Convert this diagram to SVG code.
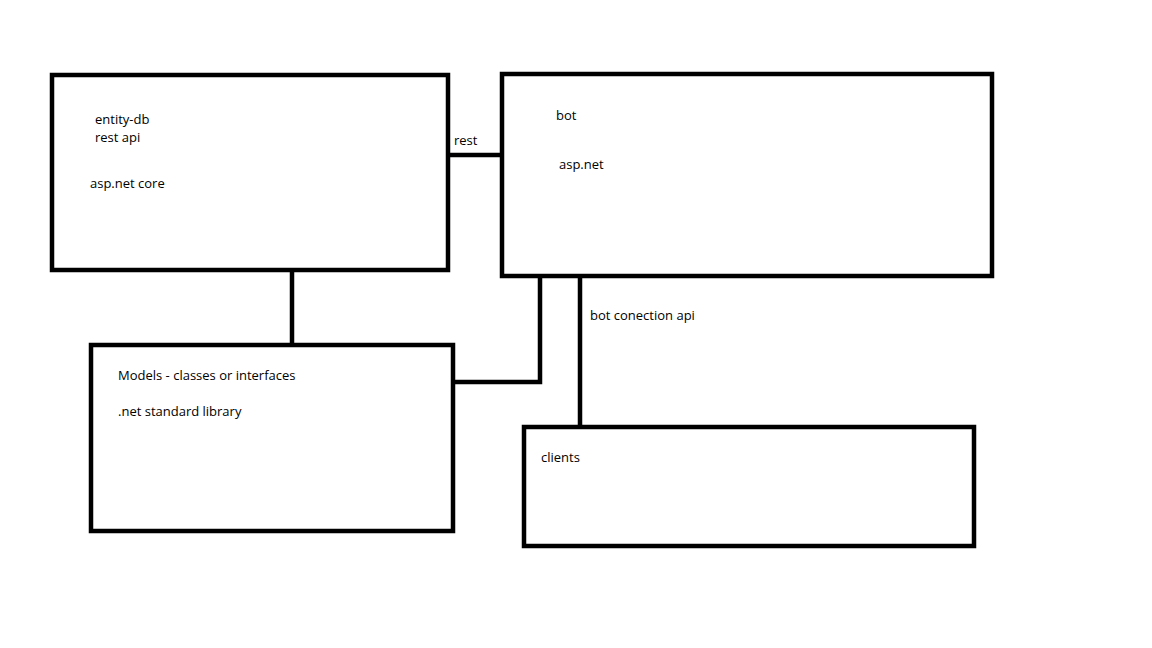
<svg xmlns="http://www.w3.org/2000/svg" width="1152" height="648" viewBox="0 0 1152 648">
<style>
.box{fill:#fff;stroke:#000;stroke-width:4.5}
.ln{fill:none;stroke:#000;stroke-width:4.5}
text{font-family:"Open Sans","Noto Sans",sans-serif;font-size:13px;fill:#000}
</style>
<rect width="1152" height="648" fill="#fff"/>
<g id="connectors">
<line class="ln" x1="445" y1="155" x2="502" y2="155"/>
<line class="ln" x1="292" y1="270" x2="292" y2="345"/>
<polyline class="ln" points="540,276 540,382 453,382"/>
<line class="ln" x1="580" y1="276" x2="580" y2="427"/>
<text x="454" y="145">rest</text>
<text x="590" y="320">bot conection api</text>
</g>
<g id="entity-db">
<rect class="box" x="52" y="75" width="396" height="195"/>
<text x="95" y="124">entity-db</text>
<text x="95" y="142">rest api</text>
<text x="90" y="188">asp.net core</text>
</g>
<g id="bot">
<rect class="box" x="502" y="74" width="490" height="202"/>
<text x="556" y="120">bot</text>
<text x="559" y="169">asp.net</text>
</g>
<g id="models">
<rect class="box" x="91" y="345" width="362" height="186"/>
<text x="118" y="380">Models - classes or interfaces</text>
<text x="118" y="416">.net standard library</text>
</g>
<g id="clients">
<rect class="box" x="524" y="427" width="450" height="119"/>
<text x="541" y="462">clients</text>
</g>
</svg>
